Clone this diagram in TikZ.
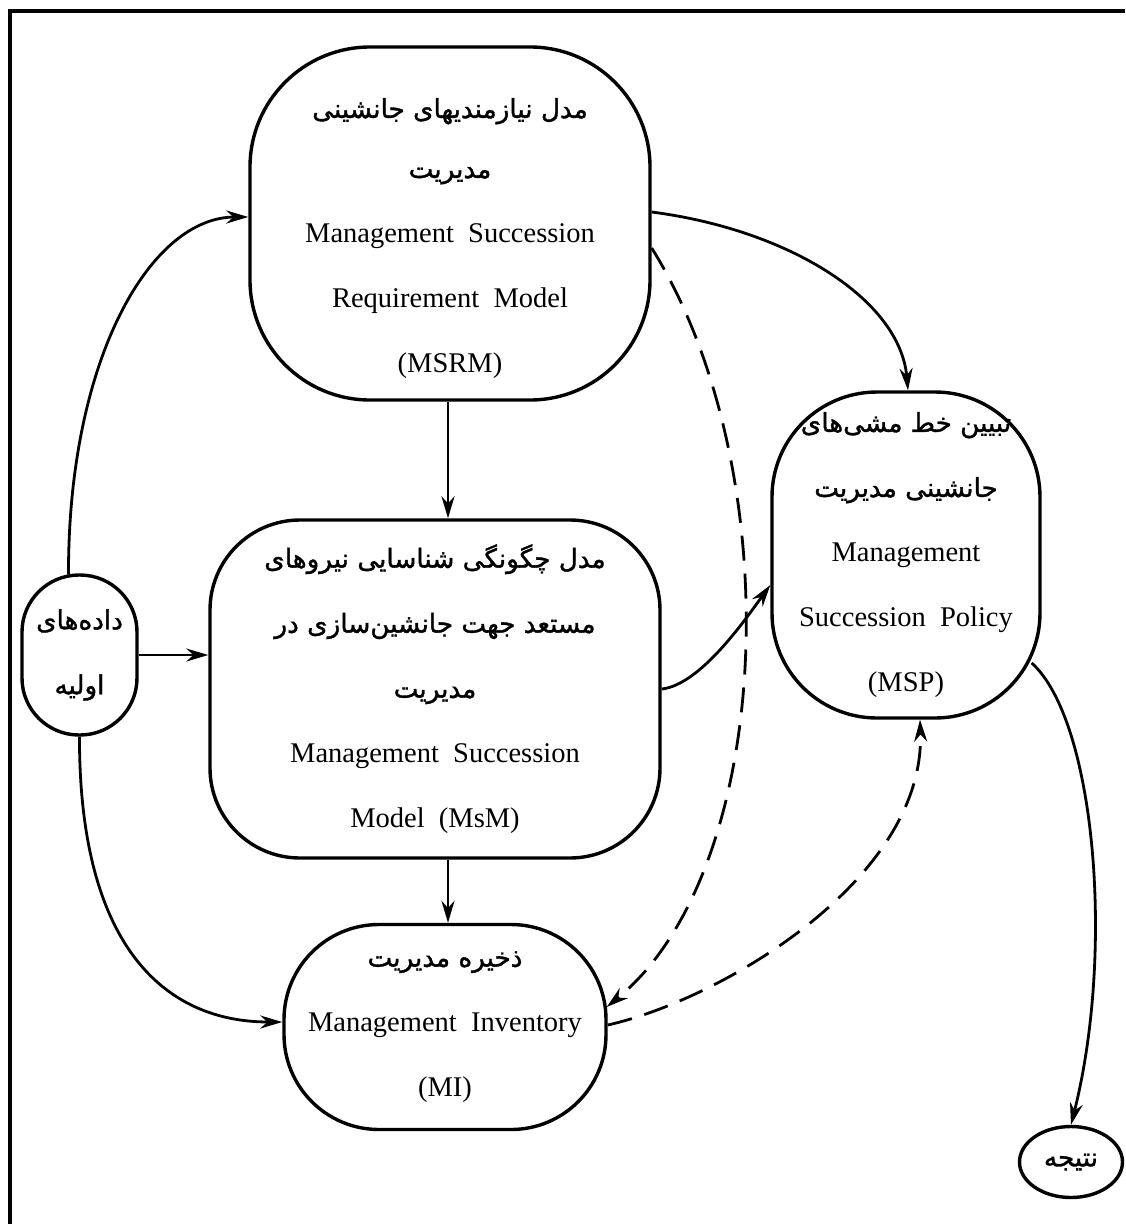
\documentclass[tikz,border=0pt]{standalone}
\usepackage{fontspec}
\setmainfont{Liberation Serif}
\newfontfamily\fa[Script=Arabic,Scale=0.92,FakeBold=1.3]{DejaVu Sans}
\usetikzlibrary{arrows.meta,calc,shapes.geometric}
\TeXXeTstate=1
\begin{document}
\begin{tikzpicture}[x=1pt,y=-1pt,
  box/.style={draw,line width=3.4pt,rounded corners=#1,align=center,inner sep=0pt,
    font=\fontsize{28.5}{65}\selectfont},
  arr/.style={line width=2.8pt,-{Stealth[length=22pt,width=13pt]}},
  dsh/.style={arr,dash pattern=on 25pt off 13pt}]
\useasboundingbox (0,0) rectangle (1125,1224);
\draw[line width=4.5pt] (10,1224) -- (10,11) -- (1125,11);

\node[box=120,minimum width=400pt,minimum height=353pt] (msrm) at (450,223.5)
 {{\fa\beginR مدل نیازمندیهای جانشینی\endR}\rule{0pt}{50pt}\\[-5pt]
  {\fa\beginR مدیریت\endR}\\
  Management\ \ Succession\\
  Requirement\ \ Model\\
  (MSRM)};

\node[box=90,minimum width=450pt,minimum height=338pt] (msm) at (435,689)
 {{\fa\beginR مدل چگونگی شناسایی نیروهای\endR}\\
  {\fa\beginR مستعد جهت جانشین‌سازی در\endR}\\
  {\fa\beginR مدیریت\endR}\\
  Management\ \ Succession\\
  Model\ \ (MsM)};

\node[box=95,minimum width=322pt,minimum height=205pt] (mi) at (445,1027)
 {{\fa\beginR ذخیره مدیریت\endR}\\
  Management\ \ Inventory\\
  (MI)};

\node[box=105,minimum width=268pt,minimum height=326pt] (msp) at (906,555)
 {{\fa\beginR تبیین خط مشی‌های\endR}\\
  {\fa\beginR جانشینی مدیریت\endR}\\
  Management\\
  Succession\ \ Policy\\
  (MSP)};

\node[box=57,minimum width=115pt,minimum height=160pt] (data) at (79.5,655)
 {{\fa\beginR داده‌های\endR}\\
  {\fa\beginR اولیه\endR}};

\node[draw,ellipse,line width=3.4pt,minimum width=103pt,minimum height=71pt,inner sep=0pt,
  font=\fontsize{28.5}{65}\selectfont] (res) at (1071,1162)
 {{\fa\beginR نتیجه\endR}};

% connectors
\draw[arr] ($(data.north)+(-11,1)$) .. controls (68,360) and (150,217) .. ($(msrm.west)+(0,-6.5)$);
\draw[arr] (data.east) -- (data.east -| msm.west);
\draw[arr] (data.south) .. controls (79,940) and (160,1022) .. ($(mi.west)+(0,-5)$);
\draw[arr] ($(msrm.south)+(-2,0)$) -- ($(msm.north)+(13,0)$);
\draw[arr] ($(msm.south)+(13,0)$) -- ($(mi.north)+(3,0)$);
\draw[arr] ($(msrm.east)+(0,-11.5)$) .. controls (790,230) and (900,300) .. ($(msp.north)+(2,0)$);
\draw[dsh] ($(msrm.east)+(0,24.5)$) .. controls (790,470) and (775,870) .. ($(mi.east)+(-1,-20)$);
\draw[arr] (msm.east) .. controls (700,685) and (745,620) .. ($(msp.west)+(0,30)$);
\draw[dsh] ($(mi.east)+(0,-2)$) .. controls (720,1000) and (925,880) .. ($(msp.south)+(14,0)$);
\draw[arr] ($(msp.east)+(-10,108)$) .. controls (1095,720) and (1115,950) .. (res.north);
\end{tikzpicture}
\end{document}
